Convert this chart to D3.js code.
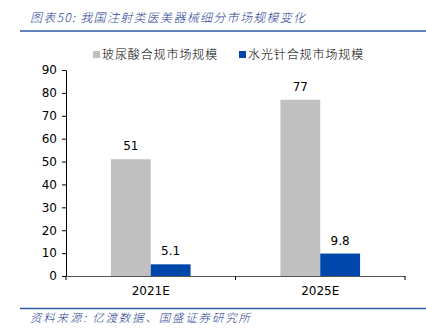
<!DOCTYPE html>
<html>
<head>
<meta charset="utf-8">
<script src="https://cdn.jsdelivr.net/npm/d3@7/dist/d3.min.js"></script>
<style>
  html, body { margin: 0; padding: 0; background: #fff; }
  svg { display: block; }
</style>
</head>
<body>
<svg id="chart" width="426" height="333"></svg>
<script>
// Segment market sizes, 2021E vs 2025E
const categories = ["2021E", "2025E"];
const seriesNames = ["玻尿酸合规市场规模", "水光针合规市场规模"];
const hyaluronicValues = [51, 77];
const waterLightValues = [5.1, 9.8];
const yTicks = [0, 10, 20, 30, 40, 50, 60, 70, 80, 90];
const titleText = "图表50:  我国注射类医美器械细分市场规模变化";
const sourceText = "资料来源:  亿渡数据、国盛证券研究所";

const colors = ["#c0c0c0", "#0047ab"];
const cjk = "'Noto Sans CJK SC', 'Noto Sans', sans-serif";
const latin = "Tahoma, 'DejaVu Sans', 'Liberation Sans', sans-serif";

const svg = d3.select("#chart");

// Header and footer
svg.append("text")
  .attr("x", 30).attr("y", 22)
  .attr("font-family", cjk).attr("font-size", 12).attr("font-style", "italic")
  .attr("font-weight", 300).attr("letter-spacing", 1.3)
  .attr("fill", "#1f3f94")
  .text(titleText);
svg.append("line")
  .attr("x1", 20).attr("x2", 426).attr("y1", 31).attr("y2", 31)
  .attr("stroke", "#2f5aa8").attr("stroke-width", 1.5);

svg.append("line")
  .attr("x1", 20).attr("x2", 426).attr("y1", 308.5).attr("y2", 308.5)
  .attr("stroke", "#2f5aa8").attr("stroke-width", 1.5);
svg.append("text")
  .attr("x", 30).attr("y", 322)
  .attr("font-family", cjk).attr("font-size", 11.5).attr("font-style", "italic")
  .attr("font-weight", 300).attr("letter-spacing", 1.8)
  .attr("fill", "#1f3f94")
  .text(sourceText);

// Plot area
const plot = { left: 66, right: 405, top: 70, bottom: 276 };

const x0 = d3.scaleBand().domain(categories)
  .range([plot.left, plot.right]).paddingInner(0).paddingOuter(0);
const groupPad = 0.265;
const x1 = d3.scaleBand().domain([0, 1])
  .range([x0.bandwidth() * groupPad, x0.bandwidth() * (1 - groupPad)]);
const y = d3.scaleLinear().domain([0, 90]).range([plot.bottom, plot.top]);

// Bars
const rows = categories.map((c, i) => ({ cat: c, vals: [hyaluronicValues[i], waterLightValues[i]] }));
const groups = svg.append("g").selectAll("g").data(rows).join("g")
  .attr("transform", d => `translate(${x0(d.cat)},0)`);
groups.selectAll("rect").data(d => d.vals.map((v, k) => ({ v, k })))
  .join("rect")
  .attr("x", d => x1(d.k)).attr("width", x1.bandwidth())
  .attr("y", d => y(d.v)).attr("height", d => y(0) - y(d.v))
  .attr("fill", d => colors[d.k]);
groups.selectAll("text").data(d => d.vals.map((v, k) => ({ v, k })))
  .join("text")
  .attr("x", d => x1(d.k) + x1.bandwidth() / 2)
  .attr("y", d => y(d.v) - 9)
  .attr("text-anchor", "middle")
  .attr("font-family", latin).attr("font-size", 12).attr("fill", "#000")
  .text(d => d.v);

// Y axis
const yAxis = svg.append("g").attr("transform", `translate(${plot.left},0)`)
  .call(d3.axisLeft(y).tickValues(yTicks).tickSize(4).tickSizeOuter(0));
yAxis.select(".domain").attr("stroke", "#000");
yAxis.selectAll(".tick line").attr("stroke", "#000");
yAxis.selectAll(".tick text")
  .attr("font-family", latin).attr("font-size", 12).attr("fill", "#000").attr("x", -9);

// X axis
const xAxis = svg.append("g").attr("transform", `translate(0,${plot.bottom})`)
  .call(d3.axisBottom(x0).tickSize(0).tickSizeOuter(0));
xAxis.select(".domain").attr("stroke", "#555");
xAxis.selectAll(".tick text")
  .attr("font-family", latin).attr("font-size", 12).attr("fill", "#000").attr("dy", "1.3em");
// category separators
const sepX = [plot.left, x0(categories[1]), plot.right];
svg.append("g").selectAll("line").data(sepX).join("line")
  .attr("x1", d => d).attr("x2", d => d)
  .attr("y1", plot.bottom).attr("y2", plot.bottom + 4)
  .attr("stroke", "#000");

// Legend
const legendItems = [
  { name: seriesNames[0], color: colors[0], x: 93 },
  { name: seriesNames[1], color: colors[1], x: 239 }
];
const lg = svg.append("g").selectAll("g").data(legendItems).join("g")
  .attr("transform", d => `translate(${d.x},55)`);
lg.append("rect").attr("x", 0).attr("y", -4).attr("width", 7).attr("height", 7)
  .attr("fill", d => d.color);
lg.append("text").attr("x", 9).attr("y", 4)
  .attr("font-family", cjk).attr("font-size", 12).attr("fill", "#000")
  .attr("font-weight", 300).attr("letter-spacing", 0.9)
  .text(d => d.name);
</script>
</body>
</html>
